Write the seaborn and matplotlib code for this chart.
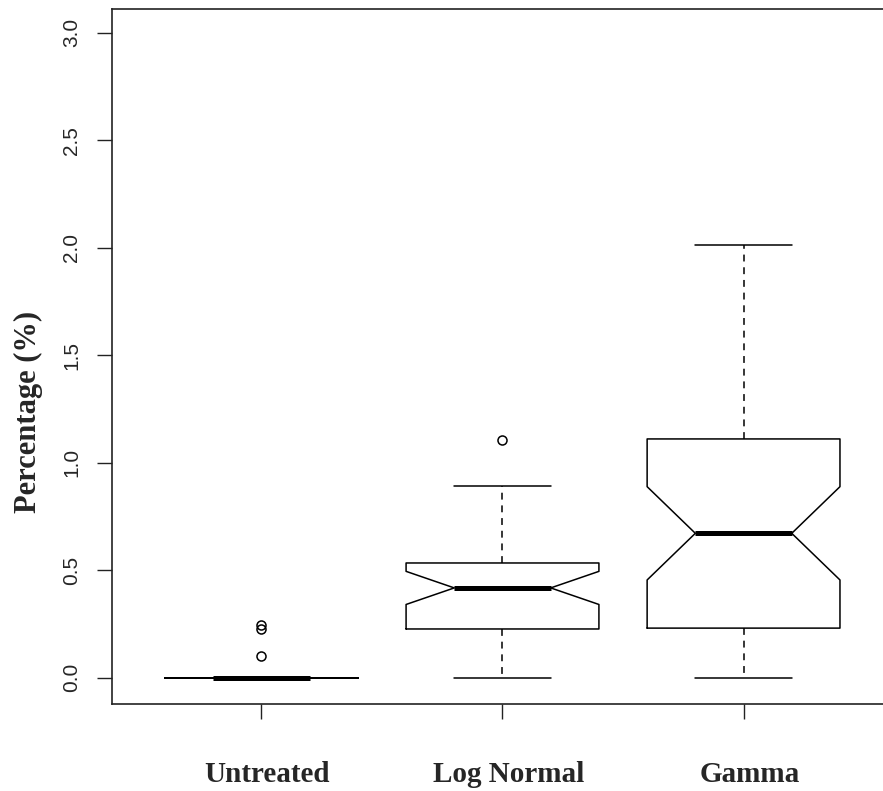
import matplotlib
matplotlib.use("Agg")
import matplotlib.pyplot as plt
import matplotlib.transforms as mtransforms
import seaborn as sns
import numpy as np

# Summary statistics for each treatment group (percentage)
groups = ["Untreated", "Log Normal", "Gamma"]
q1 = [0.0, 0.227, 0.231]
medians = [0.0, 0.418, 0.672]
q3 = [0.0, 0.534, 1.111]
notch_lo = [0.0, 0.341, 0.455]
notch_hi = [0.0, 0.495, 0.889]
whisker_lo = [0.0, 0.0, 0.0]
whisker_hi = [0.0, 0.892, 2.015]
outliers = [[0.245, 0.225, 0.102], [1.106], []]
y_ticks = [0.0, 0.5, 1.0, 1.5, 2.0, 2.5, 3.0]
y_tick_labels = ["0.0", "0.5", "1.0", "1.5", "2.0", "2.5", "3.0"]

sns.set_style("ticks")
plt.rcParams["font.family"] = ["Liberation Sans", "DejaVu Sans"]
plt.rcParams["lines.scale_dashes"] = True

W, H = 883, 791
fig = plt.figure(figsize=(W / 100, H / 100), dpi=100)
ax = fig.add_axes([112 / W, 87 / H, 781 / W, 695 / H])

stats = []
for g, a, m, b, lo, hi, wl, wh, f in zip(groups, q1, medians, q3, notch_lo,
                                         notch_hi, whisker_lo, whisker_hi, outliers):
    stats.append(dict(label=g, q1=a, med=m, q3=b, cilo=lo, cihi=hi,
                      whislo=wl, whishi=wh, fliers=np.array(f, dtype=float)))

positions = np.arange(1, len(groups) + 1)
lw = 1.1
ax.bxp(stats, positions=positions, widths=0.8, shownotches=True,
       boxprops=dict(color="black", linewidth=lw),
       whiskerprops=dict(color="black", linewidth=lw, linestyle=(0, (4.5, 3.8))),
       capprops=dict(color="black", linewidth=lw),
       medianprops=dict(color="black", linewidth=3.6, solid_capstyle="butt"),
       flierprops=dict(marker="o", markerfacecolor="none", markeredgecolor="black",
                       markersize=6.5, markeredgewidth=lw, linestyle="none"),
       manage_ticks=False)

ax.set_xlim(0.38, 3.62)
ax.set_ylim(-0.122, 3.111)

# Frame: R-style open box (right edge falls outside the canvas)
for side in ["top", "left", "bottom", "right"]:
    ax.spines[side].set_visible(True)
    ax.spines[side].set_color("#222222")
    ax.spines[side].set_linewidth(1.2)

ax.set_xticks(positions)
ax.set_xticklabels([])
ax.set_yticks(y_ticks)
ax.set_yticklabels(y_tick_labels, fontsize=15, rotation=90)
for lab in ax.get_yticklabels():
    lab.set_va("center")

ax.tick_params(axis="both", direction="out", length=10.8, width=1.0, color="#222222")
ax.tick_params(axis="y", pad=11.2)

# Group names set well below the axis, as in the base-graphics layout
label_tf = ax.get_xaxis_transform() + mtransforms.ScaledTranslation(
    6 / 100, -78 / 100, fig.dpi_scale_trans)
for x, g in zip(positions, groups):
    ax.text(x, 0, g, transform=label_tf, ha="center", va="baseline",
            fontsize=21, fontweight="bold",
            family=["Liberation Serif", "DejaVu Serif"])

ax.set_ylabel("Percentage (%)", fontsize=22, fontweight="bold",
              family=["Liberation Serif", "DejaVu Serif"])
ax.yaxis.set_label_coords(-0.088, 0.42)
ax.set_xlabel("")

fig.savefig("out.png", dpi=100)
